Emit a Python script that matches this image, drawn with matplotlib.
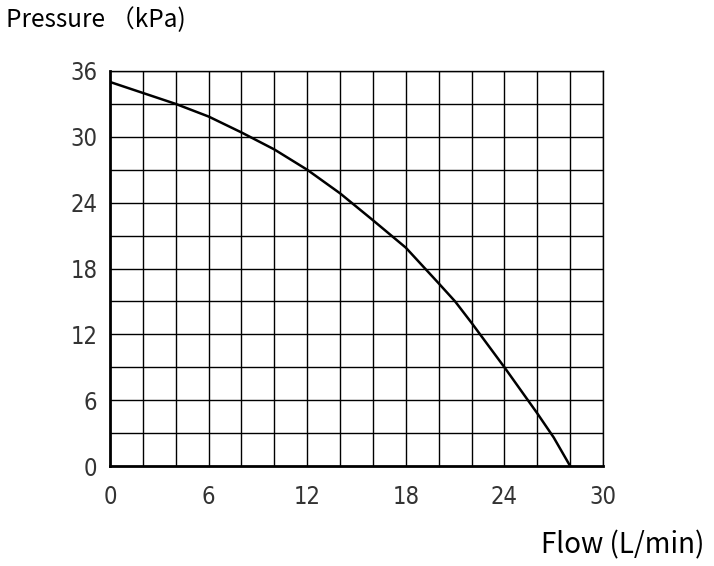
import numpy as np
import matplotlib.pyplot as plt

# curve (flow L/min, pressure kPa)
flow = [0, 2, 4, 6, 8, 10, 12, 14, 16, 18, 20, 21, 22, 24, 26, 27, 28]
pressure = [35.0, 34.0, 33.0, 31.85, 30.4, 28.85, 27.0, 24.85, 22.4, 19.9, 16.65, 15.0,
            13.05, 9.0, 4.8, 2.6, 0.0]

x_ticks = [0, 6, 12, 18, 24, 30]
y_ticks = [0, 6, 12, 18, 24, 30, 36]

fig = plt.figure(figsize=(7.14, 5.66), dpi=100)
ax = fig.add_axes([110 / 714, 100 / 566, 493 / 714, 395 / 566])

# grid: every 2 on x, every 3 on y
for gx in np.arange(2, 30.1, 2):
    ax.axvline(gx, color='black', lw=1.0, zorder=1)
for gy in np.arange(3, 36.1, 3):
    ax.axhline(gy, color='black', lw=1.0, zorder=1)

ax.plot(flow, pressure, color='black', lw=1.8, zorder=3)

ax.set_xlim(0, 30)
ax.set_ylim(0, 36)
ax.set_xticks(x_ticks)
ax.set_yticks(y_ticks)

tick_font = dict(family='DejaVu Sans', size=17, weight='light', stretch='condensed', color='#333333')
ax.set_xticklabels([str(t) for t in x_ticks], **tick_font)
ax.set_yticklabels([str(t) for t in y_ticks], **tick_font)
ax.tick_params(axis='y', length=0, pad=9)
ax.tick_params(axis='x', length=0, pad=14)

for side in ['top', 'right']:
    ax.spines[side].set_linewidth(1.0)
for side in ['left', 'bottom']:
    ax.spines[side].set_linewidth(2.0)

label_font = ['Noto Sans CJK SC', 'DejaVu Sans']
fig.text(6 / 714, 1 - 20 / 566, 'Pressure （kPa)', family=label_font, fontsize=17.5,
         ha='left', va='center')
fig.text(704 / 714, 1 - 545 / 566, 'Flow (L/min)', family=label_font, fontsize=20,
         ha='right', va='center')

fig.savefig('out.png', dpi=100)
